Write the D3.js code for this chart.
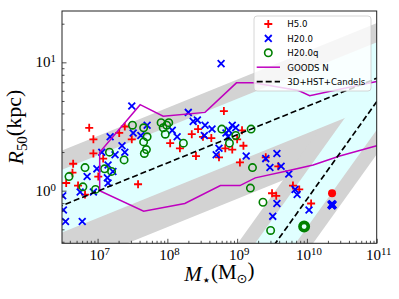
<!DOCTYPE html>
<html>
<head>
<meta charset="utf-8">
<script src="https://cdn.jsdelivr.net/npm/d3@7"></script>
<style>
  body { margin: 0; background: #fff; }
  svg { display: block; }
  .math { font-family: "Liberation Serif", "DejaVu Serif", serif; fill: #000; }
  .legend text { font-family: "DejaVu Sans", sans-serif; font-size: 8.6px; fill: #000; }
</style>
</head>
<body>
<div id="chart"></div>
<script>
// [log10 M*, log10 R50 (kpc)]
const h5 = [[6.88,0.49],[6.94,0.40],[6.94,0.29],[7.39,0.50],[7.31,0.45],[7.49,0.40],[6.65,0.21],[6.64,0.14],
  [6.55,0.06],[6.72,0.04],[6.82,-0.03],[7.08,0.25],[7.01,0.11],[7.58,0.05],[8.04,0.37],[8.18,0.33],[8.35,0.44],
  [8.44,0.48],[8.51,0.42],[8.63,0.41],[8.41,0.27],[8.81,0.62],[8.74,0.26],[8.93,0.32],[8.83,0.33],[9.00,0.40],
  [9.07,0.47],[9.09,0.35],[9.04,0.22],[9.41,0.26],[9.59,0.19],[9.50,-0.02],[9.56,-0.04],[9.80,0.04],[9.89,0.01],
  [10.06,-0.10]];
const h20 = [[8.77,0.99],[7.49,0.66],[7.71,0.51],[7.62,0.43],[7.51,0.45],[7.18,0.42],[7.35,0.35],[7.06,0.30],
  [7.25,0.28],[7.39,0.30],[6.99,0.17],[7.15,0.20],[7.22,0.15],[6.85,0.11],[7.14,0.10],[7.15,0.06],[6.75,-0.01],
  [6.94,-0.01],[6.50,-0.04],[6.51,-0.15],[6.54,-0.24],[6.78,-0.24],[8.07,0.47],[8.14,0.42],[8.30,0.61],[8.37,0.54],
  [8.43,0.55],[8.54,0.51],[8.64,0.48],[8.53,0.43],[8.84,0.45],[8.88,0.47],[8.93,0.51],[8.98,0.49],[8.87,0.42],
  [8.74,0.33],[8.70,0.28],[9.13,0.27],[9.41,0.25],[9.57,0.29],[9.47,0.18],[9.63,0.19],[9.74,0.13],[9.83,0.01],
  [9.86,-0.03],[9.57,-0.10],[9.51,-0.20],[10.03,-0.15]];
const h20q = [[7.50,0.51],[7.66,0.49],[7.71,0.42],[7.66,0.38],[7.70,0.32],[7.67,0.29],[7.17,0.30],[7.38,0.24],
  [6.82,0.18],[6.59,0.11],[7.10,0.17],[7.20,0.15],[6.79,0.03],[6.97,0.01],[7.91,0.53],[7.99,0.51],[8.02,0.53],
  [7.94,0.49],[7.97,0.44],[8.23,0.37],[8.78,0.48],[9.20,0.48],[8.98,0.43],[8.89,0.37],[9.22,0.18],[9.19,0.02],
  [9.37,-0.09],[9.48,-0.31]];
// heavy overplotted points at the massive end
const h5Big = [[10.36,-0.02]];
const h20Big = [[10.36,-0.11]];
const h20qBig = [[9.96,-0.28]];

// GOODS N envelope, upper and lower edges
const goodsUpper = [[7.03,0.30],[7.61,0.67],[7.94,0.58],[8.54,0.61],[8.99,0.84],[9.23,0.84],[9.88,0.78],
  [10.04,0.74],[10.47,0.79],[11.0,0.85]];
const goodsLower = [[7.03,0.00],[7.66,-0.16],[8.25,-0.10],[8.76,0.04],[9.04,0.04],[9.26,0.10],[9.76,0.16],
  [10.09,0.20],[10.47,0.27],[11.0,0.35]];

// 3D-HST+CANDELS fits: log R = zero + slope * (log M - pivot), bands as offsets in dex
const lateFit = { pivot: 10.7, zero: 0.81, slope: 0.22 };
const earlyFit = { pivot: 10.7, zero: 0.465, slope: 0.76 };
const lateInner = [-0.21, 0.28];
const lateOuter = [-0.50, 0.43];
const earlyInner = [-0.22, 0.22];
const earlyOuter = [-0.41, 0.41];

const xDecades = [7, 8, 9, 10, 11];
const yDecades = [0, 1];
const legendLabels = ["H5.0", "H20.0", "H20.0q", "GOODS N", "3D+HST+Candels"];

class SizeMassPlot {
  constructor({ el }) {
    this.el = el;
    this.init();
  }

  init() {
    this.width = 399;
    this.height = 299;
    this.margin = { top: 11, right: 22.3, bottom: 55.7, left: 62 };

    this.x = d3.scaleLog()
      .domain([10 ** 6.49, 1e11])
      .range([this.margin.left, this.width - this.margin.right]);
    this.y = d3.scaleLog()
      .domain([10 ** -0.41, 10 ** 1.40])
      .range([this.height - this.margin.bottom, this.margin.top]);

    this.svg = d3.select(this.el).append("svg")
      .attr("width", this.width)
      .attr("height", this.height);

    this.svg.append("clipPath").attr("id", "plot-clip")
      .append("rect")
      .attr("x", this.margin.left)
      .attr("y", this.margin.top)
      .attr("width", this.x.range()[1] - this.x.range()[0])
      .attr("height", this.y.range()[0] - this.y.range()[1]);

    this.gPlot = this.svg.append("g").attr("clip-path", "url(#plot-clip)");
    this.render();
  }

  px(d) { return this.x(10 ** d[0]); }
  py(d) { return this.y(10 ** d[1]); }

  band(fit, offs) {
    const m = [6.3, 11.2];
    const c = (v) => fit.zero + fit.slope * (v - fit.pivot);
    return d3.area()
      .x((v) => this.x(10 ** v))
      .y0((v) => this.y(10 ** (c(v) + offs[0])))
      .y1((v) => this.y(10 ** (c(v) + offs[1])))(m);
  }

  fitLine(fit) {
    const m = [6.3, 11.2];
    return d3.line()
      .x((v) => this.x(10 ** v))
      .y((v) => this.y(10 ** (fit.zero + fit.slope * (v - fit.pivot))))(m);
  }

  render() {
    const g = this.gPlot;
    const grey = "#d3d3d3", cyan = "#e0ffff";

    g.append("path").attr("d", this.band(lateFit, lateOuter)).attr("fill", grey);
    g.append("path").attr("d", this.band(earlyFit, earlyOuter)).attr("fill", grey);
    g.append("path").attr("d", this.band(lateFit, lateInner)).attr("fill", cyan);
    g.append("path").attr("d", this.band(earlyFit, earlyInner)).attr("fill", cyan);

    const plus = "M-4,0H4M0,-4V4";
    const cross = "M-3.4,-3.4L3.4,3.4M-3.4,3.4L3.4,-3.4";

    g.append("g").selectAll("path").data(h5).join("path")
      .attr("transform", (d) => `translate(${this.px(d)},${this.py(d)})`)
      .attr("d", plus).attr("stroke", "#ff0000").attr("stroke-width", 1.8);
    g.append("g").selectAll("path").data(h20).join("path")
      .attr("transform", (d) => `translate(${this.px(d)},${this.py(d)})`)
      .attr("d", cross).attr("stroke", "#0000ff").attr("stroke-width", 1.8);
    g.append("g").selectAll("circle").data(h20q).join("circle")
      .attr("cx", (d) => this.px(d)).attr("cy", (d) => this.py(d)).attr("r", 3.7)
      .attr("fill", "none").attr("stroke", "#008000").attr("stroke-width", 1.6);

    // overplotted clumps
    g.selectAll(".big-h5").data(h5Big).join("circle")
      .attr("cx", (d) => this.px(d)).attr("cy", (d) => this.py(d)).attr("r", 4)
      .attr("fill", "#ff0000");
    h20Big.forEach((d) => {
      [[-1, 0], [1, 0], [0, -1], [0, 1]].forEach(([dx, dy]) => {
        g.append("path")
          .attr("transform", `translate(${this.px(d) + dx},${this.py(d) + dy})`)
          .attr("d", cross).attr("stroke", "#0000ff").attr("stroke-width", 2);
      });
    });
    g.selectAll(".big-h20q").data(h20qBig).join("circle")
      .attr("cx", (d) => this.px(d)).attr("cy", (d) => this.py(d)).attr("r", 4.2)
      .attr("fill", "none").attr("stroke", "#008000").attr("stroke-width", 3.6);

    const goods = goodsUpper.slice().reverse().concat(goodsLower);
    g.append("path")
      .attr("d", d3.line().x((d) => this.px(d)).y((d) => this.py(d))(goods))
      .attr("fill", "none").attr("stroke", "#bf00bf").attr("stroke-width", 1.5);

    [lateFit, earlyFit].forEach((fit) => {
      g.append("path").attr("d", this.fitLine(fit))
        .attr("fill", "none").attr("stroke", "#000")
        .attr("stroke-width", 1.7).attr("stroke-dasharray", "6,3");
    });

    this.renderAxes();
    this.renderLegend();
  }

  renderAxes() {
    const [x0, x1] = this.x.range();
    const [y0, y1] = this.y.range();
    const minor = (lo, hi) => {
      const out = [];
      for (let k = Math.floor(lo) - 1; k <= Math.ceil(hi); k++) {
        for (let d = 2; d <= 9; d++) {
          const v = d * 10 ** k;
          if (Math.log10(v) >= lo && Math.log10(v) <= hi) out.push(v);
        }
      }
      return out;
    };

    const gx = this.svg.append("g").attr("transform", `translate(0,${y0})`);
    gx.call(d3.axisBottom(this.x).tickValues(xDecades.map((k) => 10 ** k))
      .tickSizeInner(-4.5).tickSizeOuter(0).tickFormat(() => ""));
    gx.call((s) => s.select(".domain").remove());
    const gxm = this.svg.append("g").attr("transform", `translate(0,${y0})`);
    gxm.call(d3.axisBottom(this.x).tickValues(minor(6.49, 11))
      .tickSizeInner(-2.5).tickSizeOuter(0).tickFormat(() => ""));
    gxm.call((s) => s.select(".domain").remove());

    const gy = this.svg.append("g").attr("transform", `translate(${x0},0)`);
    gy.call(d3.axisLeft(this.y).tickValues(yDecades.map((k) => 10 ** k))
      .tickSizeInner(-4.5).tickSizeOuter(0).tickFormat(() => ""));
    gy.call((s) => s.select(".domain").remove());
    const gym = this.svg.append("g").attr("transform", `translate(${x0},0)`);
    gym.call(d3.axisLeft(this.y).tickValues(minor(-0.41, 1.40))
      .tickSizeInner(-2.5).tickSizeOuter(0).tickFormat(() => ""));
    gym.call((s) => s.select(".domain").remove());

    this.svg.selectAll(".tick line").attr("stroke", "#222").attr("stroke-width", 0.8);

    this.svg.append("rect")
      .attr("x", x0).attr("y", y1).attr("width", x1 - x0).attr("height", y0 - y1)
      .attr("fill", "none").attr("stroke", "#222").attr("stroke-width", 1);

    const pow = (sel, k) => {
      sel.append("tspan").text("10");
      sel.append("tspan").attr("dy", "-0.45em").attr("font-size", "72%").text(k);
    };
    xDecades.forEach((k) => {
      this.svg.append("text").attr("class", "math")
        .attr("x", this.x(10 ** k) + 2).attr("y", y0 + 17)
        .attr("text-anchor", "middle").attr("font-size", 15)
        .call(pow, k);
    });
    yDecades.forEach((k) => {
      this.svg.append("text").attr("class", "math")
        .attr("x", x0 - 6).attr("y", this.y(10 ** k) + 5)
        .attr("text-anchor", "end").attr("font-size", 15)
        .call(pow, k);
    });

    const xl = this.svg.append("text").attr("class", "math")
      .attr("x", (x0 + x1) / 2).attr("y", 281)
      .attr("text-anchor", "middle").attr("font-size", 21);
    xl.append("tspan").attr("font-style", "italic").text("M");
    xl.append("tspan").attr("font-family", "DejaVu Sans").attr("font-size", "70%")
      .attr("dy", "0.25em").text("\u22c6");
    xl.append("tspan").attr("dy", "-0.25em").text("(M");
    xl.append("tspan").attr("font-family", "DejaVu Sans").attr("font-size", "62%")
      .attr("dy", "0.25em").text("\u2299");
    xl.append("tspan").attr("dy", "-0.25em").text(")");

    const yl = this.svg.append("text").attr("class", "math")
      .attr("transform", `translate(23,${(y0 + y1) / 2}) rotate(-90)`)
      .attr("text-anchor", "middle").attr("font-size", 22);
    yl.append("tspan").attr("font-style", "italic").text("R");
    yl.append("tspan").attr("font-size", "68%").attr("dy", "0.25em").text("50");
    yl.append("tspan").attr("dy", "-0.25em").text("(kpc)");
  }

  renderLegend() {
    const lg = this.svg.append("g").attr("class", "legend")
      .attr("transform", "translate(254,16)");
    lg.append("rect").attr("width", 117).attr("height", 75).attr("rx", 3)
      .attr("fill", "rgba(255,255,255,0.8)").attr("stroke", "#cccccc").attr("stroke-width", 0.8);
    const rowY = (i) => 8 + i * 14.4;
    lg.append("path").attr("transform", `translate(14.3,${rowY(0)})`)
      .attr("d", "M-4,0H4M0,-4V4").attr("stroke", "#ff0000").attr("stroke-width", 1.8);
    lg.append("path").attr("transform", `translate(14.3,${rowY(1)})`)
      .attr("d", "M-3.4,-3.4L3.4,3.4M-3.4,3.4L3.4,-3.4").attr("stroke", "#0000ff").attr("stroke-width", 1.8);
    lg.append("circle").attr("cx", 14.3).attr("cy", rowY(2)).attr("r", 3.7)
      .attr("fill", "none").attr("stroke", "#008000").attr("stroke-width", 1.6);
    lg.append("line").attr("x1", 2.7).attr("x2", 26).attr("y1", rowY(3)).attr("y2", rowY(3))
      .attr("stroke", "#bf00bf").attr("stroke-width", 1.5);
    lg.append("line").attr("x1", 2.7).attr("x2", 26).attr("y1", rowY(4)).attr("y2", rowY(4))
      .attr("stroke", "#000").attr("stroke-width", 1.7).attr("stroke-dasharray", "6,3");
    legendLabels.forEach((t, i) => {
      lg.append("text").attr("x", 33.3).attr("y", rowY(i) + 3.3).text(t);
    });
  }
}

new SizeMassPlot({ el: document.getElementById("chart") });
</script>
</body>
</html>
